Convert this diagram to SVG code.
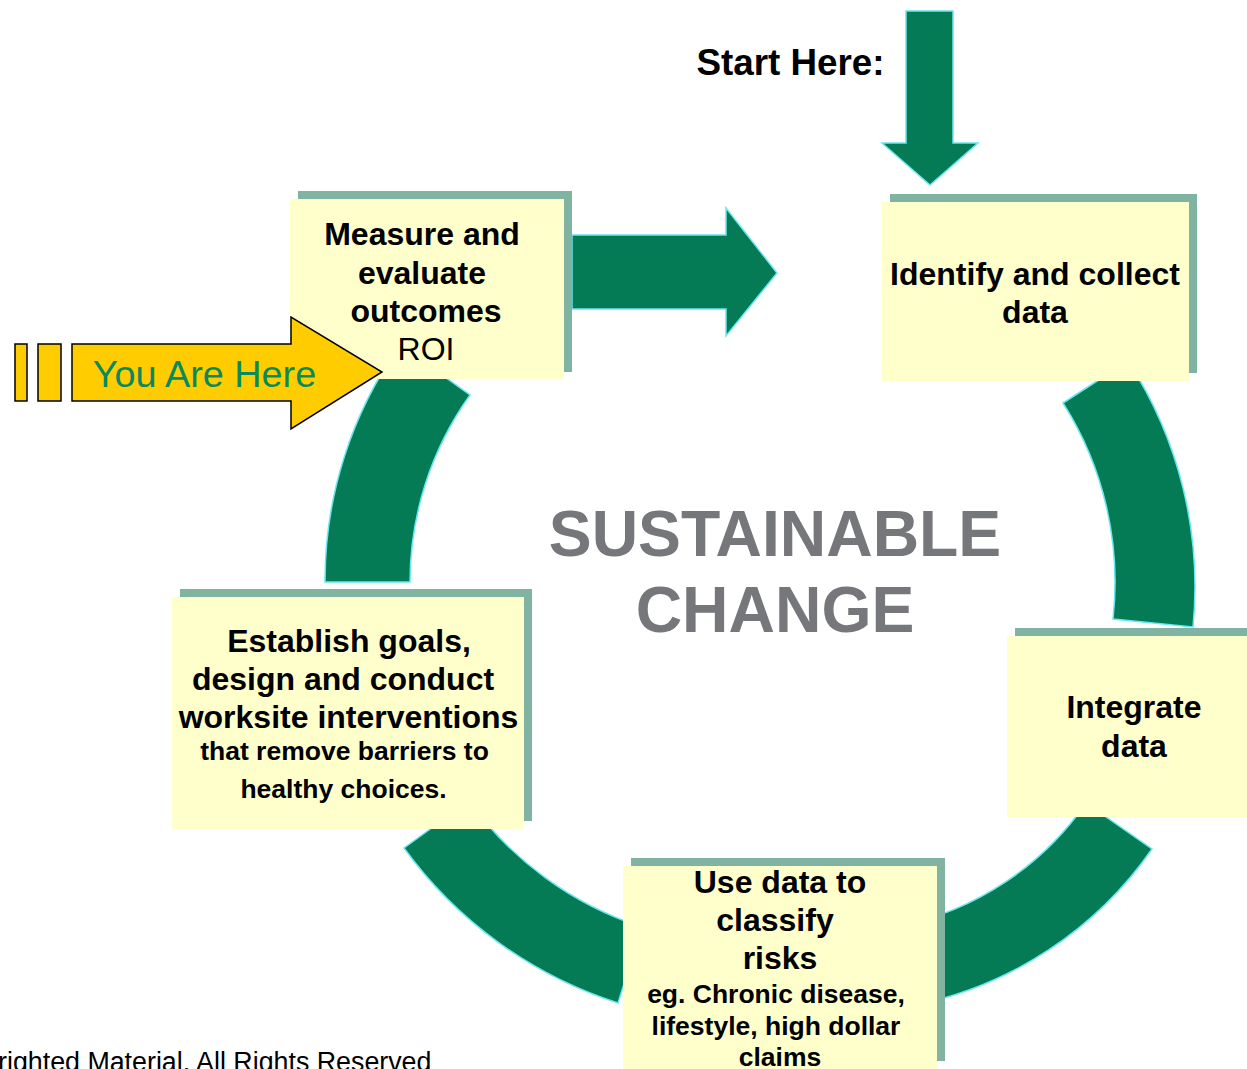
<svg xmlns="http://www.w3.org/2000/svg" width="1247" height="1069" viewBox="0 0 1247 1069">
<style>
.flow{fill:#047B55;stroke:#6CE6EE;stroke-width:1.5;stroke-linejoin:miter}
.shadow{fill:#80B3A1}
.box{fill:#FFFFCC}
.t{font-family:"Liberation Sans",Arial,sans-serif;font-weight:bold;fill:#000;text-anchor:middle}
.big{font-size:32px}
.small{font-size:26.5px}
.reg{font-weight:normal}
.center{font-family:"Liberation Sans",Arial,sans-serif;font-weight:bold;font-size:64.3px;fill:#76777A;text-anchor:middle}
</style>
<rect width="1247" height="1069" fill="#FFFFFF"/>

<g id="connectors">
  <!-- start arrow -->
  <path class="flow" d="M906,11 L953,11 L953,143 L978,143 L930,185 L882,143 L906,143 Z"/>
  <!-- top arrow from Measure to Identify -->
  <path class="flow" d="M572,235 L726,235 L726,208 L777,273 L726,336 L726,309 L572,309 Z"/>
  <!-- right arc -->
  <path class="flow" d="M1063,403 L1128,361 A414,414 0 0 1 1193,627 L1113,619 A334,334 0 0 0 1063,403 Z"/>
  <!-- bottom-right arc -->
  <path class="flow" d="M1086,803 L1152,849 A381,381 0 0 1 916,1005 L900,926 A300,300 0 0 0 1086,803 Z"/>
  <!-- bottom-left arc -->
  <path class="flow" d="M404,848 L469,801 A344,344 0 0 0 642,927 L618,1003 A424,424 0 0 1 404,848 Z"/>
  <!-- left arc -->
  <path class="flow" d="M325,582 L410,582 A322,322 0 0 1 470,395 L400,345 A408,408 0 0 0 325,582 Z"/>
</g>

<g id="center-label">
  <text class="center" x="775" y="556">SUSTAINABLE</text>
  <text class="center" x="775" y="632">CHANGE</text>
</g>

<g id="start-label">
  <text class="t" x="790.5" y="75" style="font-size:36.8px">Start Here:</text>
</g>

<g id="node-measure">
  <rect class="shadow" x="298" y="191" width="274" height="181"/>
  <rect class="box" x="290" y="199" width="274" height="180"/>
  <text class="t big" x="422" y="245">Measure and</text>
  <text class="t big" x="422" y="284">evaluate</text>
  <text class="t big" x="426" y="322">outcomes</text>
  <text class="t big reg" x="426" y="360">ROI</text>
</g>

<g id="node-identify">
  <rect class="shadow" x="890" y="194" width="307" height="179"/>
  <rect class="box" x="882" y="202" width="307" height="179"/>
  <text class="t big" x="1035" y="285">Identify and collect</text>
  <text class="t big" x="1035" y="323">data</text>
</g>

<g id="node-integrate">
  <rect class="shadow" x="1015" y="628" width="250" height="181"/>
  <rect class="box" x="1007" y="636" width="250" height="181"/>
  <text class="t big" x="1134" y="718">Integrate</text>
  <text class="t big" x="1134" y="757">data</text>
</g>

<g id="node-classify">
  <rect class="shadow" x="631" y="858" width="314" height="203"/>
  <rect class="box" x="623" y="866" width="314" height="210"/>
  <text class="t big" x="780" y="893">Use data to</text>
  <text class="t big" x="775" y="931">classify</text>
  <text class="t big" x="780" y="969">risks</text>
  <text class="t small" x="776" y="1003">eg. Chronic disease,</text>
  <text class="t small" x="776" y="1035">lifestyle, high dollar</text>
  <text class="t small" x="780" y="1066">claims</text>
</g>

<g id="node-establish">
  <rect class="shadow" x="180" y="589" width="352" height="232"/>
  <rect class="box" x="172" y="597" width="352" height="232"/>
  <text class="t big" x="349" y="652">Establish goals,</text>
  <text class="t big" x="343" y="690">design and conduct</text>
  <text class="t big" x="348.5" y="728">worksite interventions</text>
  <text class="t small" x="344.5" y="760">that remove barriers to</text>
  <text class="t small" x="343.5" y="798">healthy choices.</text>
</g>

<g id="you-are-here">
  <rect x="15" y="344" width="12" height="57" fill="#FFCC00" stroke="#000" stroke-width="1.5"/>
  <rect x="38" y="344" width="23" height="57" fill="#FFCC00" stroke="#000" stroke-width="1.5"/>
  <path d="M72,344 L291,344 L291,317 L382,372 L291,429 L291,401 L72,401 Z" fill="#FFCC00" stroke="#000" stroke-width="1.5" stroke-linejoin="miter"/>
  <text x="204.5" y="387" style="font-family:'Liberation Sans',Arial,sans-serif;font-size:37.8px;fill:#078A5E;text-anchor:middle">You Are Here</text>
</g>

<g id="footer">
  <text x="-2" y="1071" style="font-family:'Liberation Sans',Arial,sans-serif;font-size:26.8px;fill:#000">righted Material. All Rights Reserved</text>
</g>
</svg>
